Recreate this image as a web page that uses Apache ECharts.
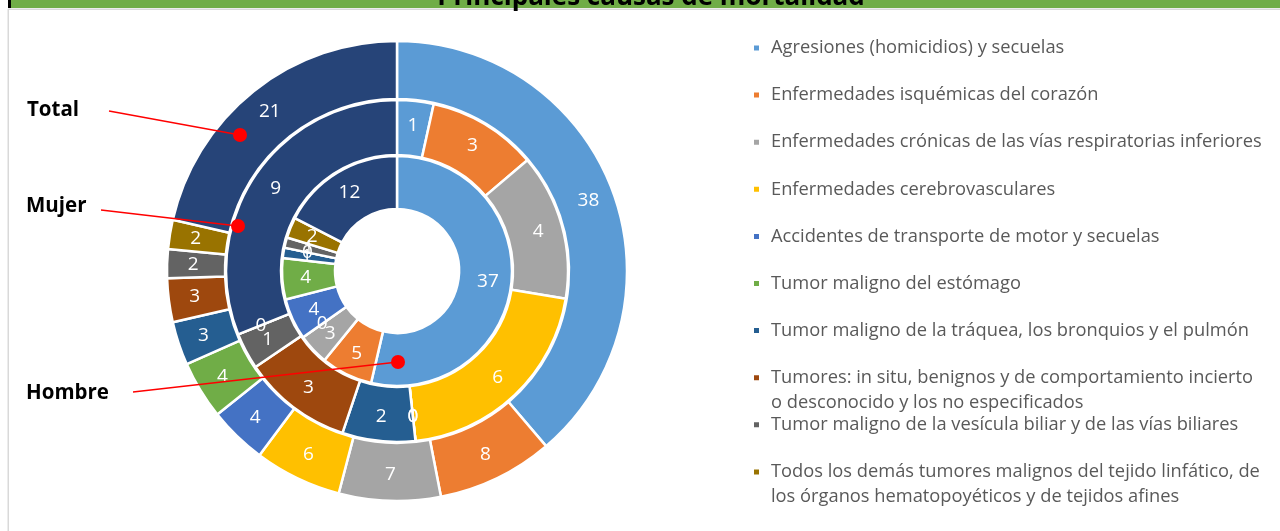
<!DOCTYPE html>
<html>
<head>
<meta charset="utf-8">
<title>Principales causas de mortalidad</title>
<script src="https://cdn.jsdelivr.net/npm/echarts@6/dist/echarts.min.js"></script>
<style>
    html, body { margin: 0; padding: 0; background: #fff; }
    #main { width: 1280px; height: 531px; }
</style>
</head>
<body>
<div id="main"></div>
<script>
// causas (la ultima no aparece en la leyenda)
var causas = [
    'Agresiones (homicidios) y secuelas',
    'Enfermedades isquémicas del corazón',
    'Enfermedades crónicas de las vías respiratorias inferiores',
    'Enfermedades cerebrovasculares',
    'Accidentes de transporte de motor y secuelas',
    'Tumor maligno del estómago',
    'Tumor maligno de la tráquea, los bronquios y el pulmón',
    'Tumores: in situ, benignos y de comportamiento incierto o desconocido y los no especificados',
    'Tumor maligno de la vesícula biliar y de las vías biliares',
    'Todos los demás tumores malignos del tejido linfático, de los órganos hematopoyéticos y de tejidos afines',
    'Demás causas'
];
var hombre = [37, 5, 3, 0, 4, 4, 1, 0, 1, 2, 12];
var mujer  = [1, 3, 4, 6, 0, 0, 2, 3, 1, 0, 9];
var total  = [38, 8, 7, 6, 4, 4, 3, 3, 2, 2, 21];

var colores = ['#5B9BD5', '#ED7D31', '#A5A5A5', '#FFC000', '#4472C4', '#70AD47',
               '#255E91', '#9E480E', '#636363', '#997300', '#264478'];

var fuente = '"Open Sans", "Noto Sans", sans-serif';

// texto de la leyenda con saltos de linea como en el original
function envolver(nombre) {
    if (nombre.indexOf('Tumores: in situ') === 0) {
        return 'Tumores: in situ, benignos y de comportamiento incierto\no desconocido y los no especificados';
    }
    if (nombre.indexOf('Todos los demás') === 0) {
        return 'Todos los demás tumores malignos del tejido linfático, de\nlos órganos hematopoyéticos y de tejidos afines';
    }
    return nombre;
}

function anillo(nombre, valores, radio) {
    var datos = [];
    for (var i = 0; i < valores.length; i++) {
        datos.push({ name: causas[i], value: valores[i] });
    }
    return {
        name: nombre,
        type: 'pie',
        center: [397, 271],
        radius: radio,
        startAngle: 90,
        clockwise: true,
        avoidLabelOverlap: false,
        stillShowZeroSum: true,
        minShowLabelAngle: 0,
        labelLayout: { hideOverlap: false },
        itemStyle: { borderColor: '#fff', borderWidth: 2.5 },
        label: {
            show: true,
            position: 'inside',
            formatter: '{c}',
            color: '#fff',
            fontSize: 19,
            fontFamily: fuente
        },
        labelLine: { show: false },
        emphasis: { disabled: true },
        data: datos
    };
}

// una leyenda por causa para dejar el espaciado fijo del original
// (se agrega una linea vacia arriba para que el icono quede en la primera linea)
var leyendas = [];
var lineaAlto = 25;
for (var i = 0; i < causas.length - 1; i++) {
    var lineas = envolver(causas[i]).split('\n').length;
    var iconoY = 48 + i * 47.1;
    leyendas.push({
        data: [causas[i]],
        orient: 'vertical',
        left: 752,
        top: iconoY - lineaAlto / 2 * (2 * lineas - 1),
        padding: 0,
        itemWidth: 7,
        itemHeight: 7,
        icon: 'rect',
        selectedMode: false,
        formatter: function (nombre) {
            var t = envolver(nombre);
            var n = t.split('\n').length;
            var relleno = '';
            for (var k = 1; k < n; k++) relleno += ' \n';
            return relleno + t;
        },
        textStyle: {
            color: '#595959',
            fontSize: 18.3,
            fontFamily: fuente,
            lineHeight: lineaAlto,
            padding: [0, 0, 0, 6]
        }
    });
}

function etiqueta(texto, tx, ty, x1, y1, x2, y2) {
    return {
        type: 'group',
        children: [
            { type: 'text', z: 100, x: tx, y: ty, style: { text: texto, font: 'bold 20.5px ' + fuente, fill: '#000', verticalAlign: 'middle' } },
            { type: 'line', z: 100, shape: { x1: x1, y1: y1, x2: x2, y2: y2 }, style: { stroke: '#FF0000', lineWidth: 1.3 } },
            { type: 'circle', z: 101, shape: { cx: x2, cy: y2, r: 7 }, style: { fill: '#FF0000' } }
        ]
    };
}

var myChart = echarts.init(document.getElementById('main'));
var option = {
    color: colores,
    animation: false,
    legend: leyendas,
    graphic: [
        { type: 'rect', shape: { x: 8, y: 0, width: 1272, height: 8 }, style: { fill: '#70AD47' }, z: 10 },
        { type: 'rect', shape: { x: 8, y: 0, width: 3, height: 8 }, style: { fill: '#000' }, z: 11 },
        { type: 'rect', shape: { x: 8, y: 8.5, width: 1272, height: 1.5 }, style: { fill: '#D9D9D9' }, z: 10 },
        { type: 'rect', shape: { x: 7.5, y: 9, width: 1.5, height: 522 }, style: { fill: '#D9D9D9' }, z: 10 },
        { type: 'text', x: 651, y: 11, z: 12, style: { text: 'Principales causas de mortalidad', font: 'bold 26px ' + fuente, fill: '#000', align: 'center', verticalAlign: 'bottom' } },
        etiqueta('Total', 27, 110, 109, 111, 240, 135),
        etiqueta('Mujer', 26, 206, 101, 210, 238, 226),
        etiqueta('Hombre', 26, 393, 133, 392, 398, 362)
    ],
    series: [
        anillo('Hombre', hombre, [62, 115]),
        anillo('Mujer', mujer, [116, 171]),
        anillo('Total', total, [172, 230])
    ]
};
myChart.setOption(option);
</script>
</body>
</html>
